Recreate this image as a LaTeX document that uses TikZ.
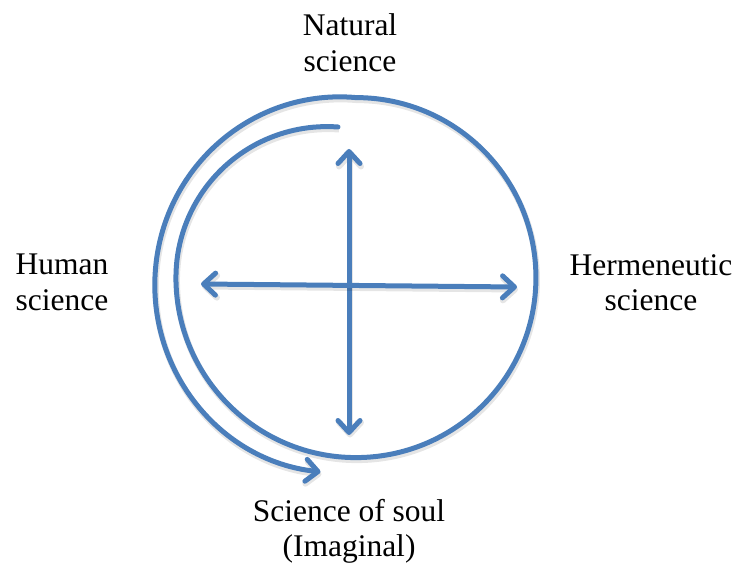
\documentclass[tikz,border=0pt]{standalone}
\usepackage{fontspec}
\setmainfont{Liberation Serif}
\usetikzlibrary{arrows.meta}
\definecolor{lineblue}{HTML}{4A7EBB}
\begin{document}
\begin{tikzpicture}[x=1pt,y=1pt,
  bluepath/.style={draw=lineblue, line width=5pt, line cap=round, line join=round},
  shadowed/.style={preaction={draw=black, draw opacity=0.10, line width=6pt,
      transform canvas={shift={(1pt,-2.5pt)}}}},
  endtip/.style={arrows={-Straight Barb[length=12pt,width=22pt,round]}},
  bothtips/.style={arrows={Straight Barb[length=12pt,width=22pt,round]-Straight Barb[length=12pt,width=22pt,round]}},
  lbl/.style={font=\fontsize{31.5}{36}\selectfont, inner sep=0pt, anchor=base}]
\useasboundingbox (0,0) rectangle (737,-564);

% cross arrows
\coordinate (vt) at (349,-149);
\coordinate (vb) at (349,-435);
\coordinate (hl) at (201,-284);
\coordinate (hr) at (517,-287);
\draw[bluepath, shadowed, bothtips] (vb) -- (vt);
\draw[bluepath, shadowed, bothtips] (hl) -- (hr);

% spiral: inner start, full circle, outer arc with arrow
\coordinate (sp) at (338,-127);
\draw[bluepath, shadowed, endtip] (sp)
  arc[start angle=85.8, end angle=180, radius=151]
  arc[start angle=180, end angle=450, radius=180]
  arc[start angle=85, end angle=264, x radius=185, y radius=188];

% labels
\node[lbl] (nat1) at (350,-36) {Natural};
\node[lbl] (nat2) at (350,-72) {science};
\node[lbl] (hum1) at (62,-275) {Human};
\node[lbl] (hum2) at (62,-311) {science};
\node[lbl] (her1) at (651,-276) {Hermeneutic};
\node[lbl] (her2) at (651,-311) {science};
\node[lbl] (sou1) at (349,-521) {Science of soul};
\node[lbl] (sou2) at (349,-556) {(Imaginal)};
\end{tikzpicture}
\end{document}
